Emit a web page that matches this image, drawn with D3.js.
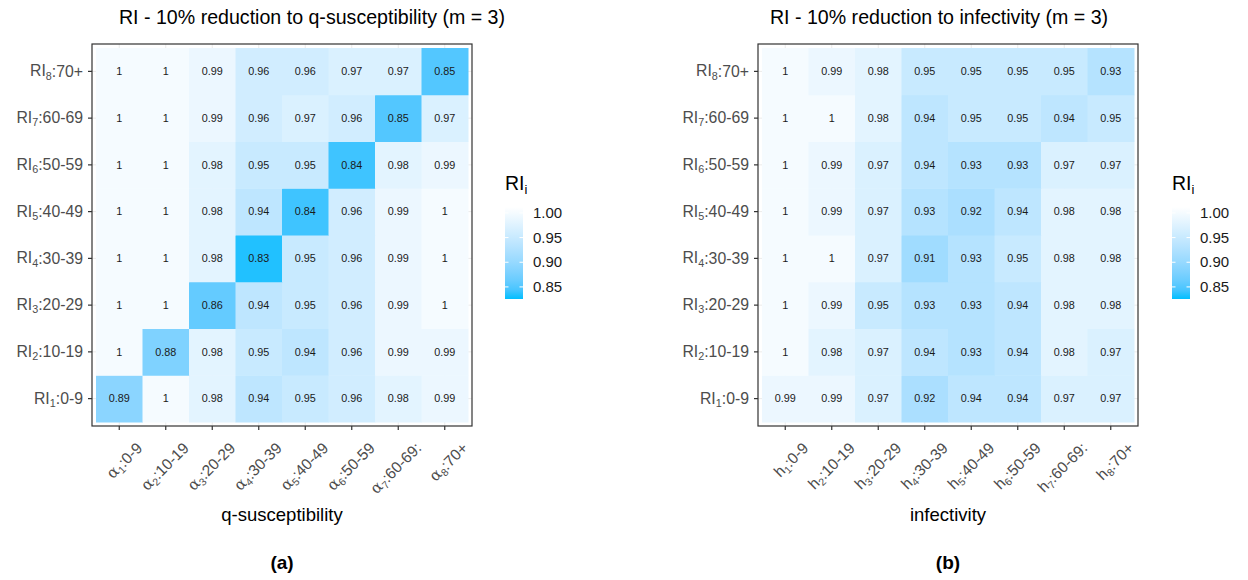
<!DOCTYPE html>
<html>
<head>
<meta charset="utf-8">
<script src="https://cdn.jsdelivr.net/npm/d3@7"></script>
<style>
  body { margin: 0; background: #fff; }
  svg { font-family: "Liberation Sans", Arial, sans-serif; }
</style>
</head>
<body>
<svg id="chart" width="1248" height="580"></svg>
<script>
// age groups (columns and rows share them)
var ageGroups = ["0-9", "10-19", "20-29", "30-39", "40-49", "50-59", "60-69", "70+"];
// the original x labels carry a stray colon on the 7th group
var xAgeLabels = ["0-9", "10-19", "20-29", "30-39", "40-49", "50-59", "60-69:", "70+"];
var legendTicks = [0.85, 0.90, 0.95, 1.00];

// RI values, rows RI1 (bottom) .. RI8 (top), columns group 1..8
var suscRI1 = [0.89, 1, 0.98, 0.94, 0.95, 0.96, 0.98, 0.99];
var suscRI2 = [1, 0.88, 0.98, 0.95, 0.94, 0.96, 0.99, 0.99];
var suscRI3 = [1, 1, 0.86, 0.94, 0.95, 0.96, 0.99, 1];
var suscRI4 = [1, 1, 0.98, 0.83, 0.95, 0.96, 0.99, 1];
var suscRI5 = [1, 1, 0.98, 0.94, 0.84, 0.96, 0.99, 1];
var suscRI6 = [1, 1, 0.98, 0.95, 0.95, 0.84, 0.98, 0.99];
var suscRI7 = [1, 1, 0.99, 0.96, 0.97, 0.96, 0.85, 0.97];
var suscRI8 = [1, 1, 0.99, 0.96, 0.96, 0.97, 0.97, 0.85];

var infRI1 = [0.99, 0.99, 0.97, 0.92, 0.94, 0.94, 0.97, 0.97];
var infRI2 = [1, 0.98, 0.97, 0.94, 0.93, 0.94, 0.98, 0.97];
var infRI3 = [1, 0.99, 0.95, 0.93, 0.93, 0.94, 0.98, 0.98];
var infRI4 = [1, 1, 0.97, 0.91, 0.93, 0.95, 0.98, 0.98];
var infRI5 = [1, 0.99, 0.97, 0.93, 0.92, 0.94, 0.98, 0.98];
var infRI6 = [1, 0.99, 0.97, 0.94, 0.93, 0.93, 0.97, 0.97];
var infRI7 = [1, 1, 0.98, 0.94, 0.95, 0.95, 0.94, 0.95];
var infRI8 = [1, 0.99, 0.98, 0.95, 0.95, 0.95, 0.95, 0.93];

var suscRows = [suscRI1, suscRI2, suscRI3, suscRI4, suscRI5, suscRI6, suscRI7, suscRI8];
var infRows = [infRI1, infRI2, infRI3, infRI4, infRI5, infRI6, infRI7, infRI8];

var svg = d3.select("#chart");
var colorDomain = [0.8255, 1.012];
var color = d3.scaleLinear()
    .domain(colorDomain)
    .range(["#00bfff", "#ffffff"])
    .interpolate(d3.interpolateLab);

var panelTop = 44, panelBottom = 426, inset = 4;
var tickColor = "#333333", labelColor = "#4d4d4d";

function drawPanel(opts) {
    var left = opts.left, right = opts.left + 380;
    var g = svg.append("g");
    var rowKeys = d3.range(1, 9);

    var x = d3.scaleBand()
        .domain(rowKeys)
        .range([left + inset, right - inset]);
    var y = d3.scaleBand()
        .domain(rowKeys)
        .range([panelBottom - inset, panelTop + inset]);

    // panel background and grid lines
    g.append("rect")
        .attr("x", left).attr("y", panelTop)
        .attr("width", right - left).attr("height", panelBottom - panelTop)
        .attr("fill", "#fff");
    g.selectAll("line.gx").data(rowKeys).enter().append("line")
        .attr("x1", function(d) { return x(d) + x.bandwidth() / 2; })
        .attr("x2", function(d) { return x(d) + x.bandwidth() / 2; })
        .attr("y1", panelTop).attr("y2", panelBottom)
        .attr("stroke", "#ebebeb");
    g.selectAll("line.gy").data(rowKeys).enter().append("line")
        .attr("y1", function(d) { return y(d) + y.bandwidth() / 2; })
        .attr("y2", function(d) { return y(d) + y.bandwidth() / 2; })
        .attr("x1", left).attr("x2", right)
        .attr("stroke", "#ebebeb");

    var cells = [];
    opts.rows.forEach(function(row, i) {
        row.forEach(function(v, j) {
            cells.push({row: i + 1, col: j + 1, value: v});
        });
    });

    g.selectAll("rect.cell").data(cells).enter().append("rect")
        .attr("class", "cell")
        .attr("x", function(d) { return x(d.col); })
        .attr("y", function(d) { return y(d.row); })
        .attr("width", x.bandwidth() + 0.5)
        .attr("height", y.bandwidth() + 0.5)
        .attr("fill", function(d) { return color(d.value); });

    g.selectAll("text.val").data(cells).enter().append("text")
        .attr("x", function(d) { return x(d.col) + x.bandwidth() / 2; })
        .attr("y", function(d) { return y(d.row) + y.bandwidth() / 2; })
        .attr("dy", "0.35em")
        .attr("text-anchor", "middle")
        .attr("font-size", 10.8)
        .attr("fill", "#1a1a1a")
        .text(function(d) { return d.value === 1 ? "1" : d3.format(".2f")(d.value); });

    // frame
    g.append("rect")
        .attr("x", left).attr("y", panelTop)
        .attr("width", right - left).attr("height", panelBottom - panelTop)
        .attr("fill", "none")
        .attr("stroke", tickColor).attr("stroke-width", 1.2);

    // axes
    var yAxis = g.append("g")
        .attr("transform", "translate(" + left + ",0)")
        .call(d3.axisLeft(y).tickSize(4).tickPadding(4).tickFormat(""));
    var xAxis = g.append("g")
        .attr("transform", "translate(0," + panelBottom + ")")
        .call(d3.axisBottom(x).tickSize(4).tickFormat(""));
    [yAxis, xAxis].forEach(function(a) {
        a.select(".domain").remove();
        a.selectAll(".tick line").attr("stroke", tickColor).attr("stroke-width", 1.2);
    });

    yAxis.selectAll(".tick text").each(function(d) {
        var t = d3.select(this)
            .attr("font-size", 15.8)
            .attr("fill", labelColor)
            .attr("x", -9)
            .attr("dy", "0.32em");
        t.append("tspan").text("RI");
        t.append("tspan").attr("font-size", 10.8).attr("dy", "0.3em").text(d);
        t.append("tspan").attr("dy", "-0.2em").text(":" + ageGroups[d - 1]);
    });

    xAxis.selectAll(".tick text").each(function(d) {
        var t = d3.select(this)
            .attr("font-size", 15.5)
            .attr("fill", labelColor)
            .attr("text-anchor", "end")
            .attr("y", 0).attr("dy", 0)
            .attr("transform", "translate(24,23) rotate(-45)");
        t.append("tspan")
            .attr("font-family", opts.symbolFont)
            .text(opts.symbol);
        t.append("tspan").attr("font-size", 10.5).attr("dy", "0.3em").text(d);
        t.append("tspan").attr("dy", "-0.2em").text(":" + xAgeLabels[d - 1]);
    });

    // titles
    svg.append("text")
        .attr("x", opts.titleX).attr("y", 24)
        .attr("text-anchor", "middle")
        .attr("font-size", 19.6)
        .text(opts.title);
    svg.append("text")
        .attr("x", (left + right) / 2).attr("y", 521)
        .attr("text-anchor", "middle")
        .attr("font-size", 18.5)
        .text(opts.xTitle);
    svg.append("text")
        .attr("x", (left + right) / 2).attr("y", 569)
        .attr("text-anchor", "middle")
        .attr("font-size", 19)
        .attr("font-weight", "bold")
        .text(opts.tag);

    // legend
    var lg = svg.append("g").attr("transform", "translate(" + opts.legendX + ",0)");
    var ly = d3.scaleLinear().domain(colorDomain).range([299, 207]);
    var gradId = "grad" + opts.tag.replace(/\W/g, "");
    var grad = svg.append("defs").append("linearGradient")
        .attr("id", gradId)
        .attr("x1", 0).attr("x2", 0).attr("y1", 1).attr("y2", 0);
    grad.selectAll("stop").data(d3.range(0, 1.0001, 0.1)).enter().append("stop")
        .attr("offset", function(t) { return t; })
        .attr("stop-color", function(t) {
            return color(colorDomain[0] + t * (colorDomain[1] - colorDomain[0]));
        });
    var t = lg.append("text").attr("x", 0).attr("y", 190).attr("font-size", 19.5);
    t.append("tspan").text("RI");
    t.append("tspan").attr("font-size", 13).attr("dy", "0.3em").text("i");
    lg.append("rect")
        .attr("x", 0).attr("y", ly(colorDomain[1]))
        .attr("width", 18).attr("height", ly(colorDomain[0]) - ly(colorDomain[1]))
        .attr("fill", "url(#" + gradId + ")");
    lg.selectAll("line.lt").data(legendTicks).enter().append("line")
        .attr("x1", 0).attr("x2", 3.5)
        .attr("y1", ly).attr("y2", ly)
        .attr("stroke", "#fff");
    lg.selectAll("line.rt").data(legendTicks).enter().append("line")
        .attr("x1", 14.5).attr("x2", 18)
        .attr("y1", ly).attr("y2", ly)
        .attr("stroke", "#fff");
    lg.selectAll("text.lab").data(legendTicks).enter().append("text")
        .attr("x", 28)
        .attr("y", ly)
        .attr("dy", "0.35em")
        .attr("font-size", 15)
        .attr("fill", "#1a1a1a")
        .text(d3.format(".2f"));
}

drawPanel({
    left: 92, rows: suscRows, symbol: "\u03b1", symbolFont: "DejaVu Serif",
    title: "RI - 10% reduction to q-susceptibility (m = 3)", titleX: 312,
    xTitle: "q-susceptibility", tag: "(a)", legendX: 505
});
drawPanel({
    left: 758, rows: infRows, symbol: "h", symbolFont: "Liberation Sans",
    title: "RI - 10% reduction to infectivity (m = 3)", titleX: 939,
    xTitle: "infectivity", tag: "(b)", legendX: 1172
});
</script>
</body>
</html>
